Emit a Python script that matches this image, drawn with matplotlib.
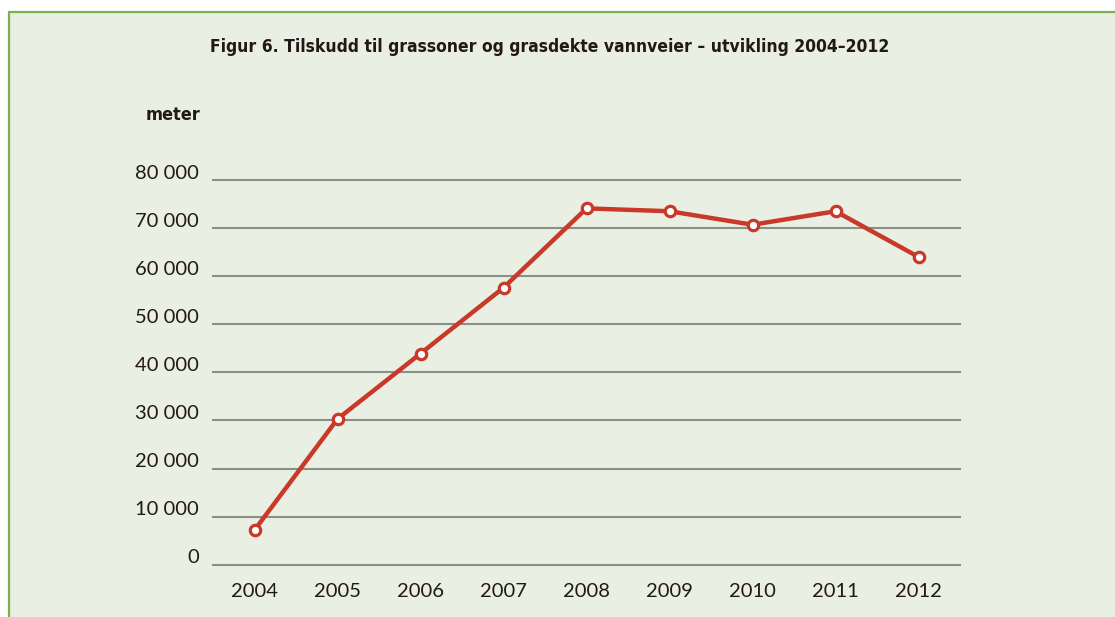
import matplotlib.pyplot as plt
from matplotlib.patches import Rectangle
from matplotlib.transforms import ScaledTranslation

years = ["2004", "2005", "2006", "2007", "2008", "2009", "2010", "2011", "2012"]
meters = [7200, 30300, 43900, 57600, 74100, 73500, 70700, 73500, 64000]
y_ticks = [0, 10000, 20000, 30000, 40000, 50000, 60000, 70000, 80000]
y_labels = ["0", "10 000", "20 000", "30 000", "40 000", "50 000", "60 000", "70 000", "80 000"]

title = "Figur 6. Tilskudd til grassoner og grasdekte vannveier – utvikling 2004–2012"

BG = "#e9efe3"
BORDER = "#7db04c"
RED = "#c9392a"
TEXT = "#231815"
GRID = "#8b9087"

fig = plt.figure(figsize=(11.15, 6.17), dpi=100)
fig.patch.set_facecolor("white")

# green panel with border on left and top
W, H = 1115, 617
panel = Rectangle((8.5 / W, -0.01), (W + 10) / W, (H - 11.5) / H + 0.01,
                  transform=fig.transFigure, facecolor=BG, edgecolor=BORDER,
                  linewidth=1.6, zorder=-10)
fig.patches.append(panel)

ax = fig.add_axes([213 / W, 1 - 564.7 / H, (960 - 213) / W, (564.7 - 180) / H])
ax.set_facecolor("none")
ax.set_zorder(5)

x = list(range(len(years)))
ax.plot(x, meters, color=RED, linewidth=3.2, marker="o", markersize=7.5,
        markerfacecolor="white", markeredgecolor=RED, markeredgewidth=2.3,
        clip_on=False, zorder=3)

ax.set_xlim(-0.5, len(years) - 0.5)
ax.set_ylim(0, 80000)
ax.set_yticks(y_ticks)
ax.set_yticklabels(y_labels)
ax.set_xticks(x)
ax.set_xticklabels(years)

for s in ax.spines.values():
    s.set_visible(False)
ax.grid(axis="y", color=GRID, linewidth=1.5)
for gl in ax.get_ygridlines():
    gl.set_clip_on(False)
ax.set_axisbelow(True)
ax.tick_params(axis="both", length=0, labelsize=14.5, labelcolor=TEXT)
ax.tick_params(axis="y", pad=10)
ax.tick_params(axis="x", pad=13)
for lab in ax.get_yticklabels() + ax.get_xticklabels():
    lab.set_family(["Lato", "DejaVu Sans"])
for lab in ax.get_yticklabels():
    lab.set_transform(lab.get_transform() + ScaledTranslation(0, 6 / 72, fig.dpi_scale_trans))

fig.text(0.493, 1 - 47 / H, title, ha="center", va="center", fontsize=12.5,
         fontweight="bold", fontstretch="condensed", color=TEXT, family="DejaVu Sans")
fig.text(200 / W, 1 - 115 / H, "meter", ha="right", va="center", fontsize=13,
         fontweight="bold", fontstretch="condensed", color=TEXT, family="DejaVu Sans")

fig.savefig("out.png", dpi=100, facecolor=fig.get_facecolor())
